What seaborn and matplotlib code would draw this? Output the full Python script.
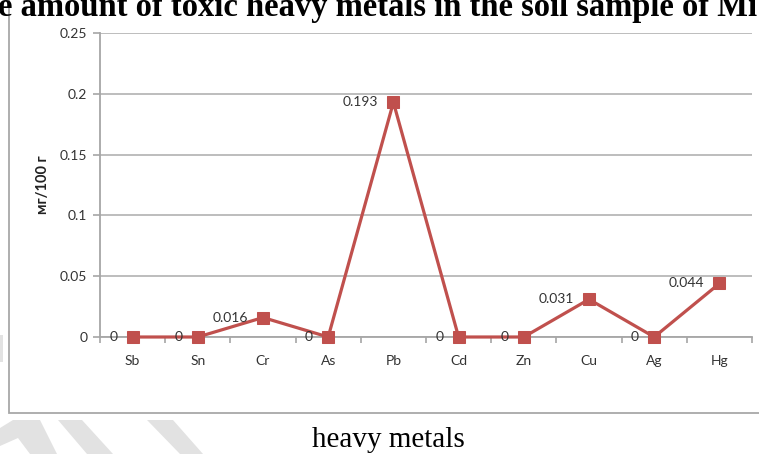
import matplotlib
matplotlib.use("Agg")
import matplotlib.pyplot as plt
import seaborn as sns
import pandas as pd
from matplotlib.patches import Polygon, Rectangle
from matplotlib.ticker import FixedLocator

# Heavy metal content of the soil sample
metals = ["Sb", "Sn", "Cr", "As", "Pb", "Cd", "Zn", "Cu", "Ag", "Hg"]
amounts = [0, 0, 0.016, 0, 0.193, 0, 0, 0.031, 0, 0.044]
value_labels = ["0", "0", "0.016", "0", "0.193", "0", "0", "0.031", "0", "0.044"]
y_ticks = [0, 0.05, 0.1, 0.15, 0.2, 0.25]
y_tick_labels = ["0", "0.05", "0.1", "0.15", "0.2", "0.25"]
title_text = "e amount of toxic heavy metals in the soil sample of Mi"
x_caption = "heavy metals"
y_caption = "мг/100 г"

sns.set_theme(style="white")
plt.rcParams["font.family"] = ["Lato", "DejaVu Sans"]

W, H = 759, 454
fig = plt.figure(figsize=(W / 100, H / 100), dpi=100)
fig.patch.set_facecolor("white")


def px(x, y):
    return (x / W, 1 - y / H)


# light grey watermark bands on the page
bands = [
    [(0, 428), (13, 420), (40, 420), (57, 454), (30, 454), (18, 438), (0, 446)],
    [(58, 420), (82, 420), (113, 454), (87, 454)],
    [(147, 420), (173, 420), (203, 454), (180, 454)],
    [(428, 0), (450, 0), (452, 13)],
    [(598, 0), (608, 0), (598, 9)],
    [(0, 335), (3, 335), (3, 362), (0, 362)],
]
for pts in bands:
    fig.patches.append(Polygon([px(*p) for p in pts], closed=True,
                               transform=fig.transFigure, facecolor="#e2e2e2",
                               edgecolor="none", zorder=0))

# chart frame
fig.patches.append(Rectangle(px(9, 413), (W + 20 - 9) / W, (413 + 20) / H,
                             transform=fig.transFigure, facecolor="white",
                             edgecolor="#a8a8a8", lw=1.3, zorder=1))

ax = fig.add_axes([100 / W, 1 - 337 / H, 652 / W, 304 / H])
ax.set_zorder(2)
ax.patch.set_alpha(0)

df = pd.DataFrame({"metal": metals, "amount": amounts})
red = "#C0504D"
sns.lineplot(data=df, x="metal", y="amount", ax=ax, sort=False, color=red,
             lw=2.3, marker="s", markersize=8, markeredgecolor=red,
             markerfacecolor=red)
for ln in ax.lines:
    ln.set_clip_on(False)
    ln.set_zorder(5)

ax.set_xlim(-0.5, len(metals) - 0.5)
ax.set_ylim(0, 0.25)
ax.set_yticks(y_ticks)
ax.set_yticklabels(y_tick_labels)
ax.yaxis.grid(True, color="#b8b8b8", lw=1.3)
ax.set_axisbelow(True)
ax.xaxis.set_minor_locator(FixedLocator([i - 0.5 for i in range(len(metals) + 1)]))

grey = "#a6a6a6"
for side in ["top", "right"]:
    ax.spines[side].set_visible(False)
for side in ["left", "bottom"]:
    ax.spines[side].set_color(grey)
    ax.spines[side].set_linewidth(1.3)

ax.tick_params(axis="y", which="major", length=5, width=1.2, color=grey,
               direction="out", left=True, pad=4, labelsize=10, labelcolor="#333333")
ax.tick_params(axis="x", which="major", length=0, pad=13, labelsize=10,
               labelcolor="#333333")
ax.tick_params(axis="x", which="minor", length=4, width=1.2, color=grey,
               direction="out", bottom=True)
ax.set_xlabel("")
ax.set_ylabel("")

for i, (v, t) in enumerate(zip(amounts, value_labels)):
    ax.annotate(t, (i, v), xytext=(-11, 0), textcoords="offset points",
                ha="right", va="center", fontsize=10, color="#333333",
                zorder=6, annotation_clip=False)

fig.text(*px(43, 185), y_caption, rotation=90, ha="center", va="center",
         fontsize=10.5, fontweight="bold", color="#222222", zorder=3)

fig.text(*px(-2, 16), title_text, ha="left", va="baseline", fontsize=23.5,
         fontweight="bold", family=["Liberation Serif"], color="black", zorder=3)
fig.text(*px(388, 447), x_caption, ha="center", va="baseline", fontsize=21,
         family=["Liberation Serif"], color="black", zorder=3)

fig.savefig("out.png", dpi=100, facecolor="white")
